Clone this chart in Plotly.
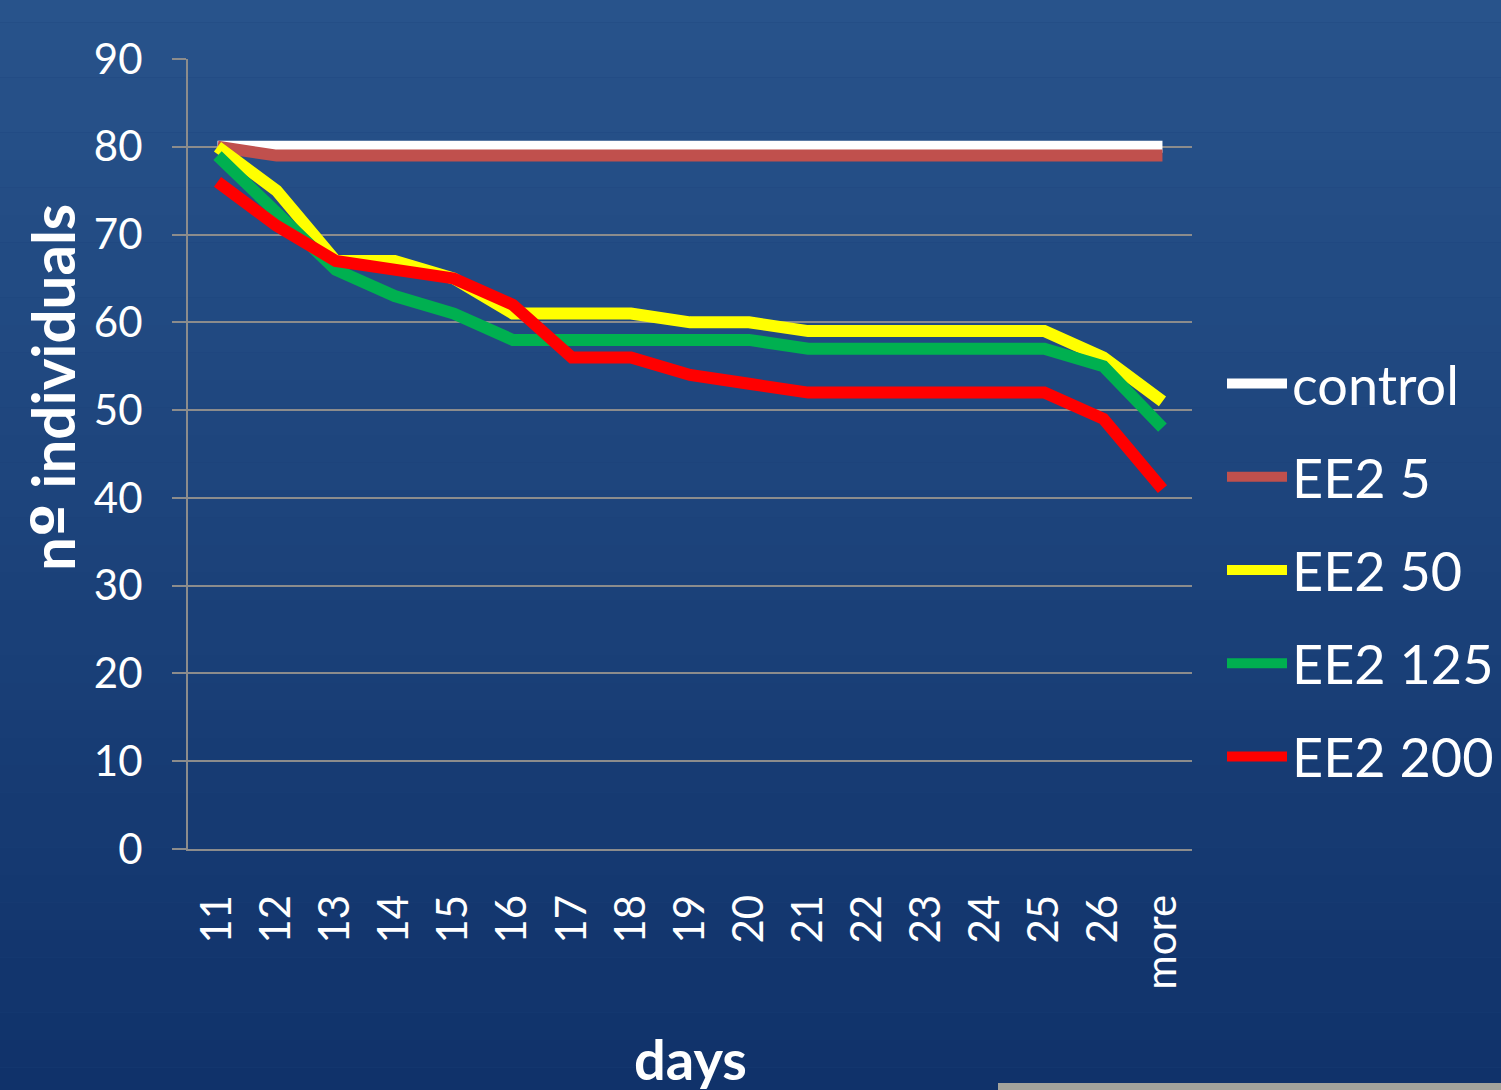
import plotly.graph_objects as go

days = ["11", "12", "13", "14", "15", "16", "17", "18", "19", "20", "21", "22", "23", "24", "25", "26", "more"]
control = [80, 80, 80, 80, 80, 80, 80, 80, 80, 80, 80, 80, 80, 80, 80, 80, 80]
ee2_5 = [80, 79, 79, 79, 79, 79, 79, 79, 79, 79, 79, 79, 79, 79, 79, 79, 79]
ee2_50 = [80, 75, 67, 67, 65, 61, 61, 61, 60, 60, 59, 59, 59, 59, 59, 56, 51]
ee2_125 = [79, 72.5, 66, 63, 61, 58, 58, 58, 58, 58, 57, 57, 57, 57, 57, 55, 48]
ee2_200 = [76, 71, 67, 66, 65, 62, 56, 56, 54, 53, 52, 52, 52, 52, 52, 49, 41]

series = [
    ("control", control, "#ffffff"),
    ("EE2 5", ee2_5, "#c0504d"),
    ("EE2 50", ee2_50, "#ffff00"),
    ("EE2 125", ee2_125, "#00b050"),
    ("EE2 200", ee2_200, "#ff0000"),
]

FONT = "Lato"
W, H = 1501, 1090
L, T, B = 188, 59, 241
PW = W - L            # paper width in px (right margin 0)
PH = H - T - B        # paper height in px


def px(xp):
    return (xp - L) / PW


def py(yp):
    return (H - B - yp) / PH


fig = go.Figure()
for name, vals, col in series:
    fig.add_trace(go.Scatter(
        x=days, y=vals, name=name, mode="lines", legendgroup=name,
        line=dict(color=col, width=12, shape="linear"),
    ))

# background vertical gradient
shapes = []
top = (0x28, 0x53, 0x8b)
bot = (0x10, 0x32, 0x6a)
n = 40
y_top, y_bot = py(-5), py(H + 5)
for i in range(n):
    t = i / (n - 1)
    c = tuple(round(top[k] + (bot[k] - top[k]) * t) for k in range(3))
    y1 = y_top + (y_bot - y_top) * i / n
    y0 = y_top + (y_bot - y_top) * (i + 1) / n
    shapes.append(dict(type="rect", xref="paper", yref="paper", layer="below",
                       x0=px(-5), x1=px(W + 5), y0=y0, y1=y1,
                       fillcolor="rgb(%d,%d,%d)" % c, line=dict(width=0)))
# grey strip bottom right
shapes.append(dict(type="rect", xref="paper", yref="paper", layer="below",
                   x0=px(998), x1=px(W + 5), y0=py(1083), y1=py(H + 5),
                   fillcolor="#a3a39c", line=dict(width=0)))

fig.update_layout(
    width=W, height=H,
    margin=dict(l=L, r=0, t=T, b=B),
    paper_bgcolor="#1c437a", plot_bgcolor="rgba(0,0,0,0)",
    font=dict(family=FONT, color="white"),
    shapes=shapes,
    showlegend=True,
    legend=dict(x=px(1222), xanchor="left", y=py(342), yanchor="top",
                font=dict(family=FONT, size=54, color="white"),
                bgcolor="rgba(0,0,0,0)", itemwidth=60, tracegroupgap=20,
                traceorder="grouped"),
    xaxis=dict(type="category", domain=[0, (1192 - L) / PW],
               showgrid=False, showline=True, linecolor="#8c8c8c", linewidth=2,
               ticks="", tickangle=-90, tickfont=dict(family=FONT, size=42, color="white"),
               ticklabelstandoff=27, zeroline=False, range=[-0.5, 16.5]),
    yaxis=dict(range=[0, 90], dtick=10, showgrid=True, gridcolor="#8c8c8c", gridwidth=1.5,
               showline=True, linecolor="#8c8c8c", linewidth=2, ticks="outside", ticklen=14,
               tickcolor="#8c8c8c", tickwidth=1.5, zeroline=False,
               tickfont=dict(family=FONT, size=42, color="white"), ticklabelstandoff=21),
    annotations=[
        dict(text="<b>n<span style=\"font-family:DejaVu Sans\">º</span> individuals</b>",
             xref="paper", yref="paper",
             x=px(52), y=py(388), textangle=-90, showarrow=False,
             font=dict(family=FONT, size=60, color="white"), xanchor="center", yanchor="middle"),
        dict(text="<b>days</b>", xref="paper", yref="paper",
             x=px(690), y=py(1058), showarrow=False,
             font=dict(family=FONT, size=56, color="white"), xanchor="center", yanchor="middle"),
    ],
)

fig.write_html("out.html")
